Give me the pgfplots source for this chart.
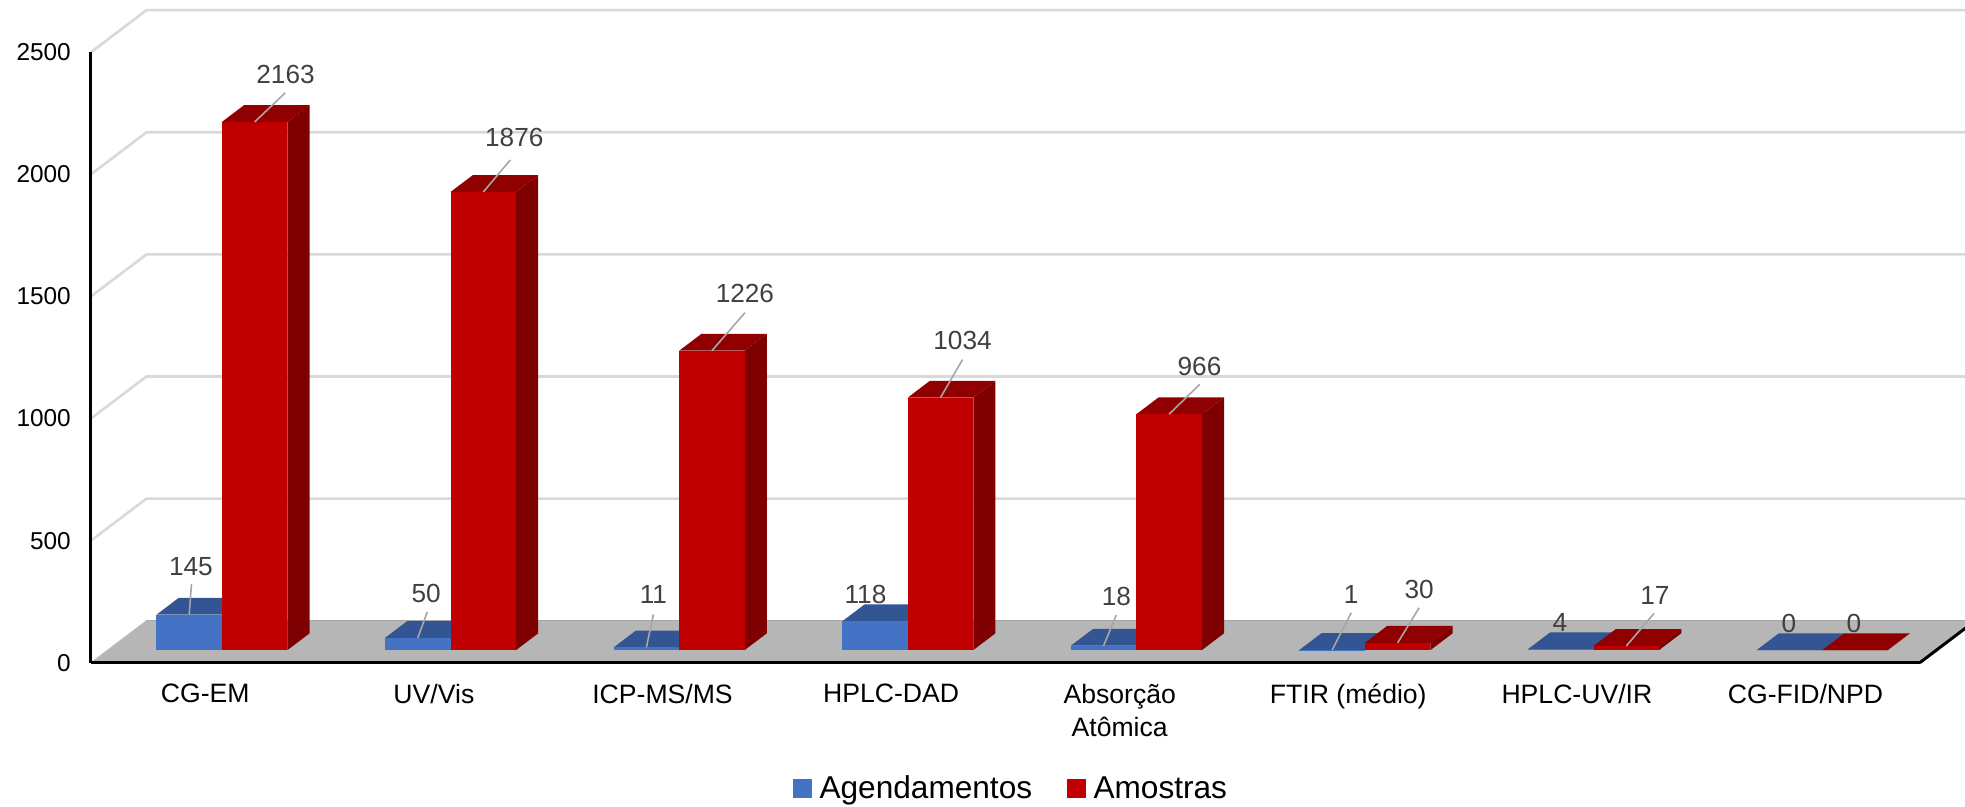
\documentclass[border=0pt]{standalone}
\usepackage{fontspec}
\setmainfont{Liberation Sans}
\usepackage{pgfplots}
\usepackage{pgfplotstable}
\pgfplotsset{compat=1.18}
\definecolor{bluef}{HTML}{4472C4}
\definecolor{bluet}{HTML}{335593}
\definecolor{blues}{HTML}{2A4678}
\definecolor{redf}{HTML}{C00000}
\definecolor{redt}{HTML}{900000}
\definecolor{reds}{HTML}{7F0000}
\definecolor{gridc}{HTML}{D9D9D9}
\definecolor{floorc}{HTML}{B6B6B6}
\definecolor{labc}{HTML}{404040}
\definecolor{leadc}{HTML}{A6A6A6}
\pgfplotstableread{
pos ag am
0 145 2163
1 50 1876
2 11 1226
3 118 1034
4 18 966
5 1 30
6 4 17
7 0 0
}\chartdata
% one 3D block: left x, right x, value, front, top, side colours
\newcommand{\block}[6]{%
  \addplot3[fill=#5,draw=none,forget plot] coordinates {(#1,0.3,#3) (#2,0.3,#3) (#2,0.7,#3) (#1,0.7,#3)} --cycle;
  \addplot3[fill=#6,draw=none,forget plot] coordinates {(#2,0.3,0) (#2,0.7,0) (#2,0.7,#3) (#2,0.3,#3)} --cycle;
  \addplot3[fill=#4,draw=none,forget plot] coordinates {(#1,0.3,0) (#2,0.3,0) (#2,0.3,#3) (#1,0.3,#3)} --cycle;
}
\newcommand{\gridl}[1]{%
  \addplot3[gridc,line width=2.6pt,forget plot] coordinates {(-0.5,0,#1) (-0.5,1,#1) (7.5,1,#1)};
}
% label with leader: x, value, leader dx dy, label dx dy
\newcommand{\dlab}[6]{%
  \draw[leadc,line width=1.6pt] (axis cs:#1,0.3,#2) -- ++(#3pt,#4pt);
  \node[labc,font=\fontsize{26.2}{30}\selectfont,inner sep=0pt] at ([shift={(#5pt,#6pt)}]axis cs:#1,0.3,#2) {#2};
}
\newcommand{\nlab}[4]{%
  \node[labc,font=\fontsize{26.2}{30}\selectfont,inner sep=0pt] at ([shift={(#3pt,#4pt)}]axis cs:#1,0.3,#2) {#2};
}
\begin{document}
\begin{tikzpicture}
\begin{axis}[
  x={(228.6pt,0pt)}, y={(55.5pt,42pt)}, z={(0pt,0.2442pt)},
  xmin=-0.5, xmax=7.5, ymin=0, ymax=1, zmin=0, zmax=2500,
  clip=false,
  axis lines*=left,
  axis on top,
  axis line style={black,line width=3pt},
  y axis line style={draw=none},
  major tick length=0pt,
  xtick={0,...,7}, ytick=\empty, ztick={0,500,1000,1500,2000,2500},
  xticklabels={CG-EM,UV/Vis,ICP-MS/MS,HPLC-DAD,Absorção\\Atômica,FTIR (médio),HPLC-UV/IR,CG-FID/NPD},
  x tick label style={font=\fontsize{26.6}{33}\selectfont,align=center,anchor=north,inner sep=0pt,yshift=-21.5pt},
  z tick label style={font=\fontsize{24.4}{28}\selectfont,anchor=east,inner sep=0pt,xshift=-20pt},
  /pgf/number format/assume math mode=true,
  /pgf/number format/1000 sep={},
  legend columns=2,
  legend style={at={(0.4883,-0.192)},anchor=center,draw=none,fill=none,font=\fontsize{31.6}{38}\selectfont,
    /tikz/every even column/.style={column sep=33pt},inner sep=0pt},
  legend cell align=left,
]
\gridl{500}\gridl{1000}\gridl{1500}\gridl{2000}\gridl{2500}
\addplot3[gridc,line width=1.5pt,forget plot] coordinates {(-0.5,0,0) (-0.5,1,0)};
\addplot3[fill=floorc,draw=none,forget plot] coordinates {(-0.5,0,0) (7.5,0,0) (7.5,1,0) (-0.5,1,0)} --cycle;
\addplot3[leadc,line width=1.2pt,forget plot] coordinates {(-0.5,1,0) (7.5,1,0)};
\addplot3[black,line width=3pt,forget plot] coordinates {(7.5,0,0) (7.5,1,0)};

\pgfplotsinvokeforeach{0,...,7}{%
  \pgfplotstablegetelem{#1}{ag}\of\chartdata \let\va\pgfplotsretval
  \pgfplotstablegetelem{#1}{am}\of\chartdata \let\vb\pgfplotsretval
  \pgfmathsetmacro\xl{#1-0.2865}\pgfmathsetmacro\xr{#1+0.2865}
  \block{\xl}{#1}{\va}{bluef}{bluet}{blues}
  \block{#1}{\xr}{\vb}{redf}{redt}{reds}
}

\dlab{-0.1433}{145}{2.3}{30.6}{1.7}{48}
\dlab{0.8567}{50}{9.5}{26}{8.4}{44.8}
\dlab{1.8567}{11}{7}{33}{7}{53}
\nlab{2.8567}{118}{-9.5}{27}
\dlab{3.8567}{18}{12.7}{30.6}{12.9}{48.9}
\dlab{4.8567}{1}{19}{37}{19}{55.8}
\nlab{5.8567}{4}{-0.8}{26.3}
\nlab{6.8567}{0}{-0.5}{26.7}
\dlab{0.1433}{2163}{30.5}{29}{30.8}{47.8}
\dlab{1.1433}{1876}{27}{32}{31}{54}
\dlab{2.1433}{1226}{33}{38}{33}{57}
\dlab{3.1433}{1034}{22}{38}{22}{57}
\dlab{4.1433}{966}{30.8}{30}{30.4}{48}
\dlab{5.1433}{30}{21.4}{35}{21.4}{53.4}
\dlab{6.1433}{17}{27.7}{32.5}{28.5}{50.8}
\nlab{7.1433}{0}{-0.9}{26.7}

\addlegendimage{legend image code/.code={\fill[bluef] (0pt,-9pt) rectangle (18pt,9pt);\path (24pt,0pt);}}
\addlegendentry{Agendamentos}
\addlegendimage{legend image code/.code={\fill[redf] (0pt,-9pt) rectangle (18pt,9pt);\path (24pt,0pt);}}
\addlegendentry{Amostras}
\coordinate (O) at (axis cs:-0.5,0,0);
\end{axis}
\pgfresetboundingbox
\path[use as bounding box] ([shift={(-91pt,-143.3pt)}]O) rectangle ([shift={(1874pt,662.7pt)}]O);
\end{tikzpicture}
\end{document}
